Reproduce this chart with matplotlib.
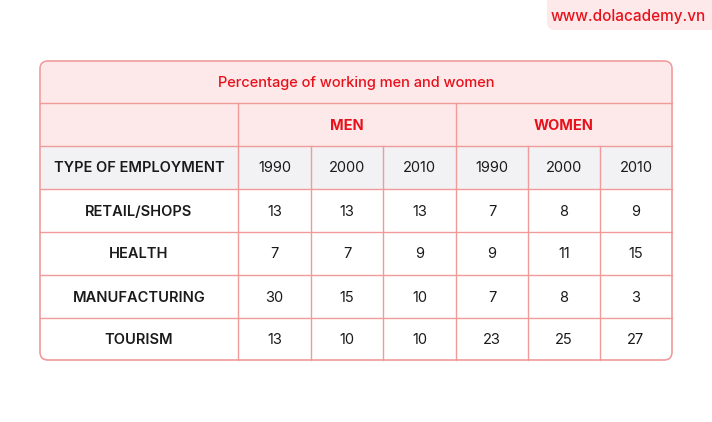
import matplotlib
matplotlib.use("Agg")
import matplotlib.pyplot as plt
from matplotlib.patches import Rectangle, FancyBboxPatch

title = "Percentage of working men and women"
groups = ["MEN", "WOMEN"]
years = ["1990", "2000", "2010"]
categories = ["RETAIL/SHOPS", "HEALTH", "MANUFACTURING", "TOURISM"]
men = [[13, 13, 13], [7, 7, 9], [30, 15, 10], [13, 10, 10]]
women = [[7, 8, 9], [9, 11, 15], [7, 8, 3], [23, 25, 27]]

plt.rcParams['font.family'] = ['Inter', 'DejaVu Sans']
fig = plt.figure(figsize=(7.12, 4.22), dpi=100)
ax = fig.add_axes([0, 0, 1, 1])
ax.set_xlim(0, 712); ax.set_ylim(422, 0); ax.axis('off')

RED = '#e8111b'; PINK = '#fde9e9'; GRAY = '#f2f2f4'; LINE = '#f19a9a'
cols = [40, 238, 311, 383, 456, 528, 600, 672]
rows = [61, 103, 146, 189, 232, 275, 318, 360]

# watermark box
ax.add_patch(FancyBboxPatch((547, -10), 175, 40, boxstyle="round,pad=0,rounding_size=8",
                            fc=PINK, ec='none'))
ax.text(628, 16, "www.dolacademy.vn", color=RED, fontsize=11, fontweight='medium',
        ha='center', va='center')

# backgrounds
ax.add_patch(FancyBboxPatch((40, 61), 632, 299, boxstyle="round,pad=0,rounding_size=8",
                            fc='white', ec=LINE, lw=1.2, zorder=1))
ax.add_patch(Rectangle((41, 68), 630, 78, fc=PINK, ec='none', zorder=1.5))
ax.add_patch(FancyBboxPatch((41, 62), 630, 30, boxstyle="round,pad=0,rounding_size=7",
                            fc=PINK, ec='none', zorder=1.4))
ax.add_patch(Rectangle((41, 146), 630, 43, fc=GRAY, ec='none', zorder=1.5))

# lines
for y in rows[1:-1]:
    ax.plot([40, 672], [y, y], color=LINE, lw=1, zorder=2)
ax.plot([238, 238], [103, 360], color=LINE, lw=1, zorder=2)
ax.plot([456, 456], [103, 360], color=LINE, lw=1, zorder=2)
for x in [311, 383, 528, 600]:
    ax.plot([x, x], [146, 360], color=LINE, lw=1, zorder=2)

def cy(i): return (rows[i] + rows[i + 1]) / 2 + 1
def cx(j): return (cols[j] + cols[j + 1]) / 2

ax.text(356, cy(0), title, color=RED, fontsize=10.5, fontweight='medium', ha='center', va='center', zorder=3)
ax.text(347, cy(1), groups[0], color=RED, fontsize=10.5, fontweight='bold', ha='center', va='center', zorder=3)
ax.text(564, cy(1), groups[1], color=RED, fontsize=10.5, fontweight='bold', ha='center', va='center', zorder=3)
ax.text(cx(0), cy(2), "TYPE OF EMPLOYMENT", color='#1a1a1a', fontsize=10.5, fontweight='semibold', ha='center', va='center', zorder=3)
for j in range(6):
    ax.text(cx(j + 1), cy(2), years[j % 3], color='#1a1a1a', fontsize=10.5, ha='center', va='center', zorder=3)
for i, cat in enumerate(categories):
    ax.text(cx(0), cy(3 + i), cat, color='#1a1a1a', fontsize=10.5, fontweight='semibold', ha='center', va='center', zorder=3)
    vals = men[i] + women[i]
    for j, v in enumerate(vals):
        ax.text(cx(j + 1), cy(3 + i), str(v), color='#1a1a1a', fontsize=10.5, ha='center', va='center', zorder=3)

fig.savefig("out.png", dpi=100, facecolor='white')
